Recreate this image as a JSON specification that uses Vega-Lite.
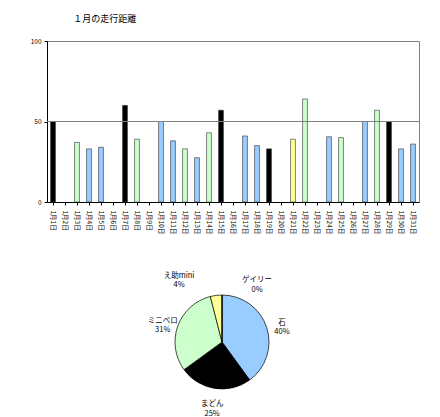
{
  "$schema": "https://vega.github.io/schema/vega-lite/v6.json",
  "background": "white",
  "padding": {"left": 29, "top": 14, "right": 2, "bottom": 2},
  "config": {
    "font": "Noto Sans CJK JP",
    "view": {"stroke": "#808080"},
    "concat": {"spacing": 36}
  },
  "vconcat": [
    {
      "width": 372,
      "height": 161,
      "title": {"text": "１月の走行距離", "anchor": "start", "dx": 43, "fontSize": 9, "fontWeight": "normal", "offset": 14, "font": "Noto Sans CJK JP"},
      "data": {"values": [
        {"day": "1月1日", "km": 50, "bike": "まどん"},
        {"day": "1月3日", "km": 37, "bike": "ミニベロ"},
        {"day": "1月4日", "km": 33, "bike": "石"},
        {"day": "1月5日", "km": 34, "bike": "石"},
        {"day": "1月7日", "km": 60, "bike": "まどん"},
        {"day": "1月8日", "km": 39, "bike": "ミニベロ"},
        {"day": "1月10日", "km": 50, "bike": "石"},
        {"day": "1月11日", "km": 38, "bike": "石"},
        {"day": "1月12日", "km": 33, "bike": "ミニベロ"},
        {"day": "1月13日", "km": 27.5, "bike": "石"},
        {"day": "1月14日", "km": 43, "bike": "ミニベロ"},
        {"day": "1月15日", "km": 57, "bike": "まどん"},
        {"day": "1月17日", "km": 41, "bike": "石"},
        {"day": "1月18日", "km": 35, "bike": "石"},
        {"day": "1月19日", "km": 33, "bike": "まどん"},
        {"day": "1月21日", "km": 39, "bike": "え助mini"},
        {"day": "1月22日", "km": 64, "bike": "ミニベロ"},
        {"day": "1月24日", "km": 40.5, "bike": "石"},
        {"day": "1月25日", "km": 40, "bike": "ミニベロ"},
        {"day": "1月27日", "km": 50, "bike": "石"},
        {"day": "1月28日", "km": 57, "bike": "ミニベロ"},
        {"day": "1月29日", "km": 50, "bike": "まどん"},
        {"day": "1月30日", "km": 33, "bike": "石"},
        {"day": "1月31日", "km": 36, "bike": "石"}
      ]},
      "layer": [
        {
          "mark": {"type": "bar", "stroke": "#333333", "strokeWidth": 0.6, "width": {"band": 0.45}},
          "encoding": {
            "x": {
              "field": "day", "type": "nominal", "sort": null,
              "scale": {"domain": ["1月1日","1月2日","1月3日","1月4日","1月5日","1月6日","1月7日","1月8日","1月9日","1月10日","1月11日","1月12日","1月13日","1月14日","1月15日","1月16日","1月17日","1月18日","1月19日","1月20日","1月21日","1月22日","1月23日","1月24日","1月25日","1月26日","1月27日","1月28日","1月29日","1月30日","1月31日"]},
              "axis": {"title": null, "labelAngle": 90, "labelFontSize": 6.5, "labelPadding": 5, "tickSize": 3, "domainColor": "#000000", "tickColor": "#000000", "labelColor": "#000000", "labelFont": "Noto Sans CJK JP"}
            },
            "y": {
              "field": "km", "type": "quantitative",
              "scale": {"domain": [0, 100], "nice": false},
              "axis": {"title": null, "values": [0, 50, 100], "grid": false, "labelFontSize": 6.5, "tickSize": 3, "labelPadding": 3, "domainColor": "#000000", "tickColor": "#000000", "labelColor": "#000000"}
            },
            "color": {
              "field": "bike", "type": "nominal", "legend": null,
              "scale": {"domain": ["石", "まどん", "ミニベロ", "え助mini", "ゲイリー"], "range": ["#99ccff", "#000000", "#ccffcc", "#ffff99", "#ff99cc"]}
            }
          }
        },
        {
          "mark": {"type": "rule", "color": "#808080", "strokeWidth": 1},
          "encoding": {"y": {"datum": 50}}
        }
      ]
    },
    {
      "width": 350,
      "height": 100,
      "view": {"stroke": null},
      "data": {"values": [
        {"bike": "石", "pct": 40, "ord": 1, "label": "石\n40%"},
        {"bike": "まどん", "pct": 25, "ord": 2, "label": "まどん\n25%"},
        {"bike": "ミニベロ", "pct": 31, "ord": 3, "label": "ミニベロ\n31%"},
        {"bike": "え助mini", "pct": 4, "ord": 4, "label": "え助mini\n4%"},
        {"bike": "ゲイリー", "pct": 0, "ord": 5, "label": "ゲイリー\n0%"}
      ]},
      "encoding": {
        "theta": {"field": "pct", "type": "quantitative", "stack": true},
        "order": {"field": "ord", "type": "quantitative"}
      },
      "layer": [
        {
          "mark": {"type": "arc", "outerRadius": 47, "stroke": "#000000", "strokeWidth": 0.7},
          "encoding": {
            "color": {
              "field": "bike", "type": "nominal", "legend": null,
              "scale": {"domain": ["石", "まどん", "ミニベロ", "え助mini", "ゲイリー"], "range": ["#99ccff", "#333333", "#ccffcc", "#ffff99", "#ff99cc"]}
            }
          }
        },
        {
          "mark": {"type": "text", "radius": 63, "fontSize": 7.5, "lineBreak": "\n", "align": "center", "baseline": "middle", "color": "#000000"},
          "encoding": {
            "text": {"condition": {"test": "datum.pct >= 10", "field": "label"}, "value": ""}
          }
        },
        {
          "mark": {"type": "text", "radius": 79, "dx": -33, "dy": 12, "fontSize": 7.5, "lineBreak": "\n", "align": "center", "baseline": "middle", "color": "#000000"},
          "encoding": {
            "text": {"condition": {"test": "datum.bike === 'え助mini'", "field": "label"}, "value": ""}
          }
        },
        {
          "mark": {"type": "text", "radius": 79, "dx": 35, "dy": 17, "fontSize": 7.5, "lineBreak": "\n", "align": "center", "baseline": "middle", "color": "#000000"},
          "encoding": {
            "text": {"condition": {"test": "datum.bike === 'ゲイリー'", "field": "label"}, "value": ""}
          }
        }
      ]
    }
  ]
}
